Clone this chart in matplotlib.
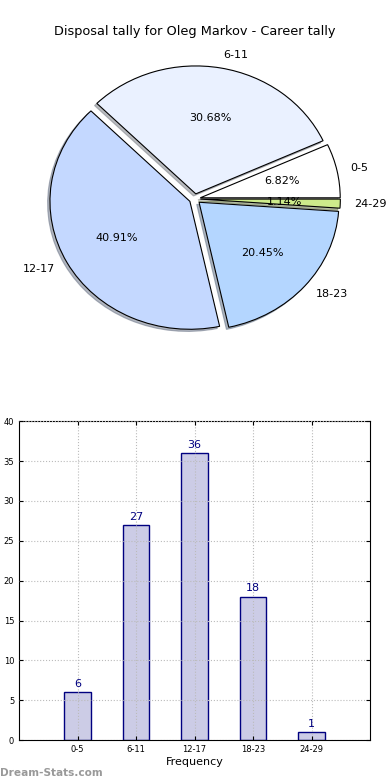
import matplotlib
matplotlib.use("Agg")
import matplotlib.pyplot as plt

labels = ["0-5", "6-11", "12-17", "18-23", "24-29"]
counts = [6, 27, 36, 18, 1]
pie_colors = ["#ffffff", "#eaf1ff", "#c4d8ff", "#b4d6ff", "#cdeb8b"]

fig = plt.figure(figsize=(3.9, 7.8), dpi=100)

# pie (stretched, old-style, not equal aspect)
ax1 = fig.add_axes([0.051, 0.540, 0.897, 0.410])
wedges, texts, autotexts = ax1.pie(
    counts, labels=labels, colors=pie_colors, autopct="%.2f%%",
    explode=[0.04] * len(counts), startangle=0,
    shadow={"ox": -0.012, "oy": -0.012, "shade": 0.5},
    wedgeprops={"edgecolor": "black", "linewidth": 0.8},
    textprops={"fontsize": 8},
)
ax1.set_aspect("auto")
ax1.set_title("Disposal tally for Oleg Markov - Career tally", fontsize=9.3, y=1.0, pad=3)

# bar chart
ax2 = fig.add_axes([0.049, 0.051, 0.900, 0.409])
x = range(len(labels))
bars = ax2.bar(x, counts, width=0.45, color="#cccce6", edgecolor="#000080", linewidth=1)
for xi, c in zip(x, counts):
    ax2.text(xi, c + 0.4, str(c), ha="center", va="bottom", color="#000080", fontsize=8)
ax2.set_xlim(-1, 5)
ax2.set_ylim(0, 40)
ax2.set_yticks(range(0, 41, 5))
ax2.set_xticks(list(x))
ax2.set_xticklabels(labels)
ax2.tick_params(labelsize=6, direction="in", top=True, right=True, length=3)
ax2.grid(True, linestyle=":", color="#bbbbbb", linewidth=0.8)
ax2.set_axisbelow(False)
ax2.set_xlabel("Frequency", fontsize=8, labelpad=2)

fig.text(0.0, 0.005, "Dream-Stats.com", color="#999999", fontsize=7.6, fontweight="bold")

fig.savefig("out.png", dpi=100)
